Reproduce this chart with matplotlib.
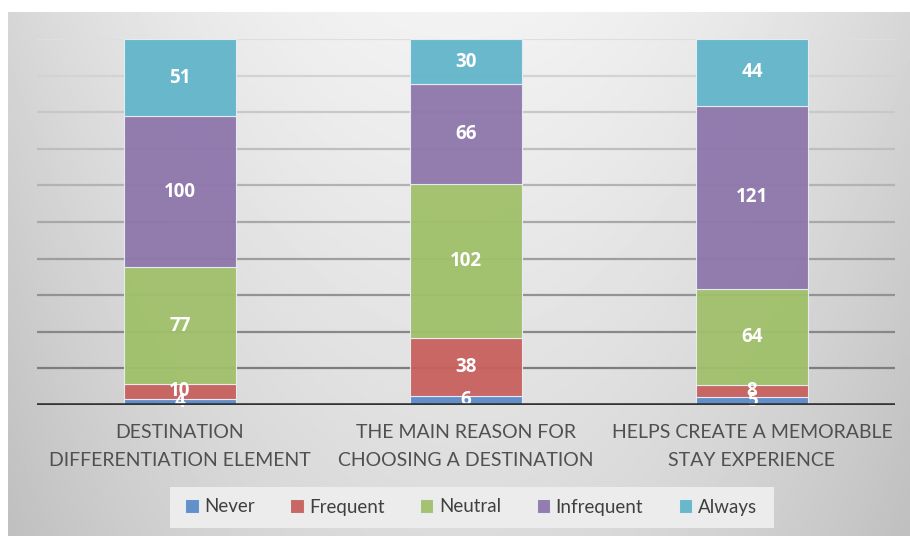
import numpy as np
import matplotlib.pyplot as plt
from matplotlib.patches import Rectangle

plt.rcParams['font.family'] = ['Lato', 'DejaVu Sans']

categories = ['DESTINATION\nDIFFERENTIATION ELEMENT',
              'THE MAIN REASON FOR\nCHOOSING A DESTINATION',
              'HELPS CREATE A MEMORABLE\nSTAY EXPERIENCE']
series = ['Never', 'Frequent', 'Neutral', 'Infrequent', 'Always']
never = [4, 6, 5]
frequent = [10, 38, 8]
neutral = [77, 102, 64]
infrequent = [100, 66, 121]
always = [51, 30, 44]

colors = ['#5B8BC8', '#C8605D', '#A0C06A', '#8E76AB', '#62B5CA']

values = np.array([never, frequent, neutral, infrequent, always], dtype=float)
totals = values.sum(axis=0)
pct = values / totals * 100

fig = plt.figure(figsize=(9.1, 5.36), dpi=100)

# grey gradient panel behind the chart
bg = fig.add_axes([8 / 910, 0, 902 / 910, 524 / 536])
gx = np.linspace(-1, 1, 400)
gy = np.linspace(0, 1, 240)
X, Y = np.meshgrid(gx, gy)
shade = 0.95 - 0.11 * X ** 2 - 0.09 * Y
bg.imshow(shade, cmap='gray', vmin=0, vmax=1, aspect='auto',
          extent=[0, 1, 0, 1], origin='upper')
bg.axis('off')

ax = fig.add_axes([37 / 910, 131 / 536, 858 / 910, 366 / 536])
ax.patch.set_alpha(0)
x = np.arange(len(categories))
ax.set_xlim(-0.5, len(categories) - 0.5)
ax.set_ylim(0, 100)

# gridlines fade from dark near the base to light at the top
for level in range(10, 101, 10):
    t = level / 100
    g = 0.45 + 0.42 * t
    ax.axhline(level, color=(g, g, g), lw=1.6, zorder=0)

bottom = np.zeros(len(categories))
for i, name in enumerate(series):
    bars = ax.bar(x, pct[i], bottom=bottom, width=0.395, color=colors[i],
                  edgecolor='#E8EEF4', linewidth=0.8, label=name, zorder=2,
                  alpha=0.95)
    for j, b in enumerate(bars):
        ax.text(b.get_x() + b.get_width() / 2, bottom[j] + pct[i][j] / 2,
                f'{int(values[i][j])}', ha='center', va='center',
                color='white', fontsize=13.5, fontweight='bold',
                family=['Open Sans', 'DejaVu Sans'], zorder=3)
    bottom += pct[i]

ax.axhline(0, color='#333333', lw=2.6, zorder=4)

ax.set_xticks(x)
ax.set_xticklabels(categories, fontsize=14, color='#505050', linespacing=1.75)
ax.tick_params(axis='x', length=0, pad=14)
ax.set_yticks([])
for s in ax.spines.values():
    s.set_visible(False)

fig.patches.append(Rectangle((170 / 910, 8 / 536), 604 / 910, 41 / 536,
                             transform=fig.transFigure, facecolor='#ECECEC',
                             edgecolor='none', zorder=1))
leg = fig.legend(loc='center', bbox_to_anchor=(471 / 910, 29 / 536), ncol=5,
                 frameon=False, fontsize=13.5, handlelength=0.7,
                 handleheight=0.7, handletextpad=0.3, columnspacing=1.9)
for t in leg.get_texts():
    t.set_color('#404040')

fig.savefig('out.png', dpi=100)
